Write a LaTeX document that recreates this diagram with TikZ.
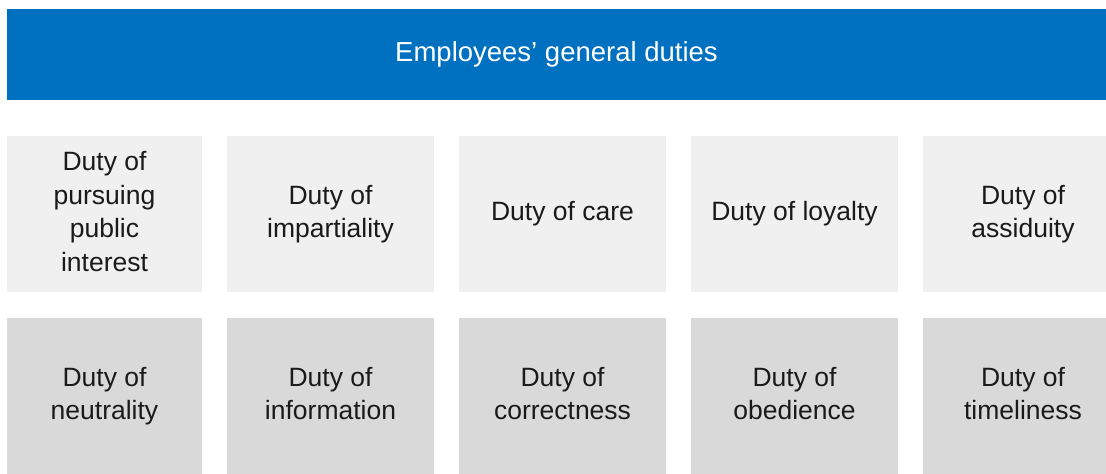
\documentclass[tikz,border=0pt]{standalone}
\usepackage{fontspec}
\setmainfont{Liberation Sans}
\definecolor{bannerblue}{HTML}{0070C0}
\definecolor{rowone}{HTML}{F0F0F0}
\definecolor{rowtwo}{HTML}{D9D9D9}
\definecolor{txt}{HTML}{1A1A1A}
\begin{document}
\begin{tikzpicture}[x=1pt,y=-1pt,
  banner/.style={fill=bannerblue,text=white,inner sep=0pt,minimum width=1099pt,minimum height=91pt,font=\fontsize{27.5}{32}\selectfont},
  dutytext/.style={inner sep=0pt,align=center,text=txt,font=\fontsize{26.5}{33.5}\selectfont,execute at end node=\vphantom{y}},
  dutybox/.style={dutytext,minimum height=156pt},
  lightbox/.style={dutybox,fill=rowone},
  darkbox/.style={dutybox,fill=rowtwo}]
\useasboundingbox (0,0) rectangle (1106,474);
\node[banner] (title) at (556.5,54.5) {Employees’ general duties};
% row 1
\node[lightbox,minimum width=195pt] (a1) at (104.5,214) {Duty of\\pursuing\\public\\interest};
\node[lightbox,minimum width=207pt] (a2) at (330.5,214) {Duty of\\impartiality};
\node[lightbox,minimum width=207pt] (a3) at (562.5,214) {Duty of care};
\node[lightbox,minimum width=207pt] (a4) at (794.5,214) {Duty of loyalty};
\node[lightbox,minimum width=183pt] (a5) at (1014.5,214) {};
\node[dutytext] (a5t) at (1023,214) {Duty of\\assiduity};
% row 2
\node[darkbox,minimum width=195pt] (b1) at (104.5,396) {Duty of\\neutrality};
\node[darkbox,minimum width=207pt] (b2) at (330.5,396) {Duty of\\information};
\node[darkbox,minimum width=207pt] (b3) at (562.5,396) {Duty of\\correctness};
\node[darkbox,minimum width=207pt] (b4) at (794.5,396) {Duty of\\obedience};
\node[darkbox,minimum width=183pt] (b5) at (1014.5,396) {};
\node[dutytext] (b5t) at (1023,396) {Duty of\\timeliness};
\end{tikzpicture}
\end{document}
